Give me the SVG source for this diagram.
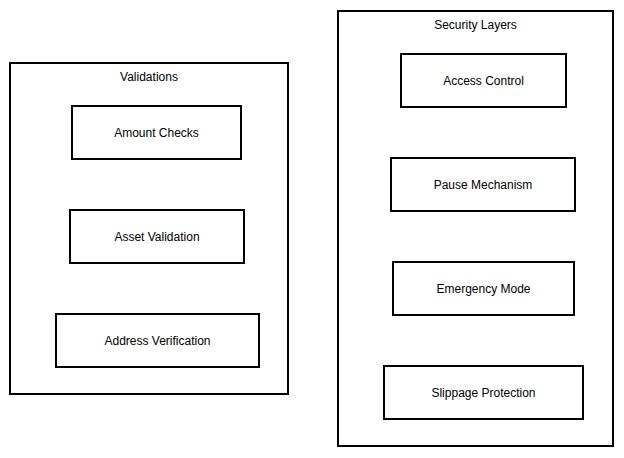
<svg xmlns="http://www.w3.org/2000/svg" width="624" height="458" viewBox="0 0 624 458">
<style>
.cl{fill:#fff;stroke:#000;stroke-width:2}
.nd{fill:#fff;stroke:#000;stroke-width:2}
text{font-family:"Liberation Sans",Arial,sans-serif;font-size:12px;fill:#000;text-anchor:middle;dominant-baseline:central}
</style>
<rect width="624" height="458" fill="#fff"/>
<g id="cluster_validations">
<rect class="cl" x="10" y="63" width="278" height="331"/>
<text x="149" y="77">Validations</text>
</g>
<g id="cluster_security">
<rect class="cl" x="338" y="11" width="275" height="435"/>
<text x="475.5" y="25">Security Layers</text>
</g>
<g id="amount_checks">
<rect class="nd" x="72" y="106" width="169" height="53"/>
<text x="156.5" y="133">Amount Checks</text>
</g>
<g id="asset_validation">
<rect class="nd" x="70" y="210" width="174" height="53"/>
<text x="157" y="237">Asset Validation</text>
</g>
<g id="address_verification">
<rect class="nd" x="56" y="314" width="203" height="53"/>
<text x="157.5" y="341">Address Verification</text>
</g>
<g id="access_control">
<rect class="nd" x="401" y="54" width="165" height="53"/>
<text x="483.5" y="81">Access Control</text>
</g>
<g id="pause_mechanism">
<rect class="nd" x="391" y="158" width="184" height="53"/>
<text x="483" y="185">Pause Mechanism</text>
</g>
<g id="emergency_mode">
<rect class="nd" x="393" y="262" width="181" height="53"/>
<text x="483.5" y="289">Emergency Mode</text>
</g>
<g id="slippage_protection">
<rect class="nd" x="384" y="366" width="199" height="53"/>
<text x="483.5" y="393">Slippage Protection</text>
</g>
<g id="connectors"></g>
</svg>
